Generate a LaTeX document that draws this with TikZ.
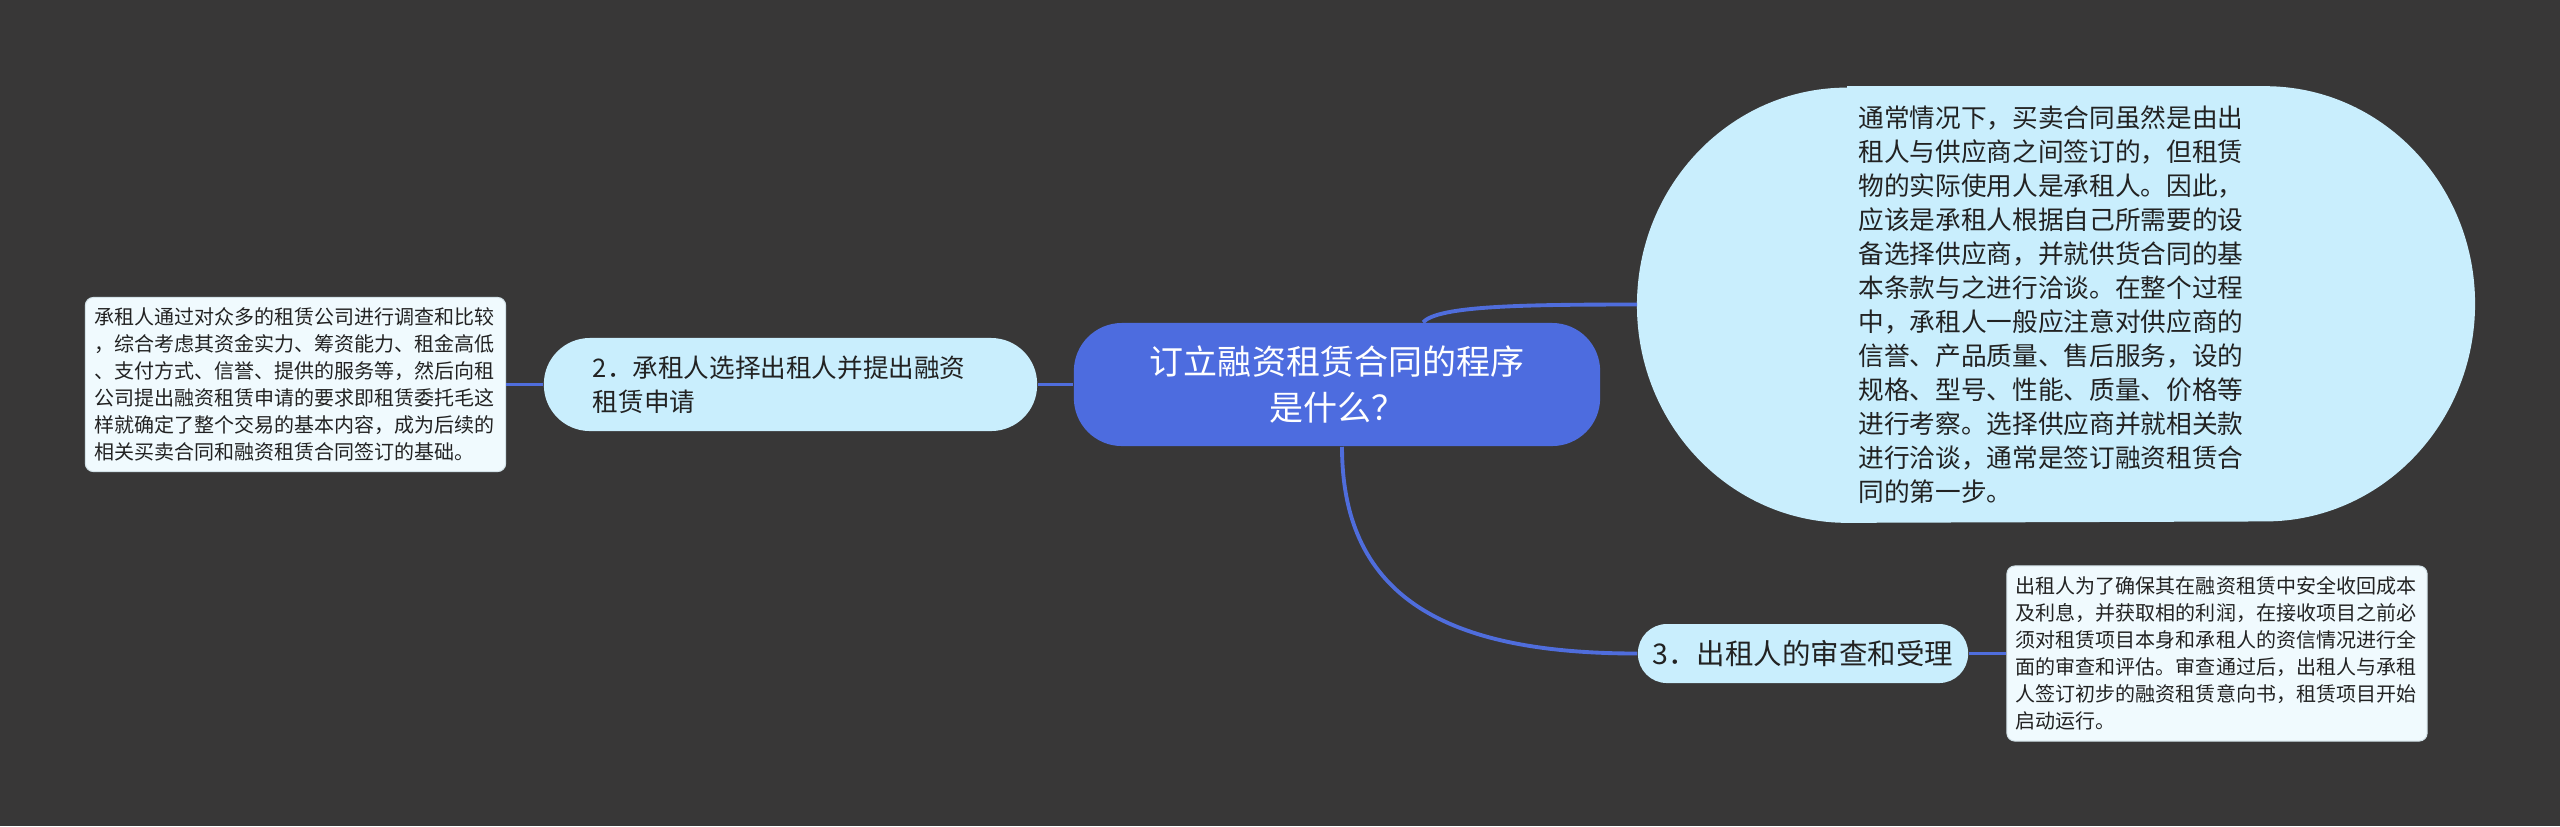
\documentclass[tikz,border=0pt]{standalone}
\usepackage{fontspec}
\usepackage{xcolor}
\newfontfamily\cjk{Noto Sans CJK SC}
\definecolor{Board}{HTML}{383737}
\definecolor{RootBlue}{HTML}{4D6CDF}
\definecolor{Wire}{HTML}{4F6DDC}
\definecolor{Bubble}{HTML}{C9EEFD}
\definecolor{LeafBg}{HTML}{F0FAFE}
\definecolor{LeafEdge}{HTML}{D3E2E8}
\definecolor{Ink}{HTML}{222222}
\usetikzlibrary{calc, backgrounds}

\begin{document}
\begin{tikzpicture}[x=0.01cm, y=-0.01cm,
  root/.style={rectangle, rounded corners=0.48cm, fill=RootBlue, text=white,
               minimum width=5.26cm, minimum height=1.23cm, inner sep=0pt, align=center,
               font=\cjk\fontsize{9.67pt}{13.1pt}\selectfont},
  topic/.style={rectangle, rounded corners=0.46cm, fill=Bubble, text=Ink,
                inner sep=0pt, font=\cjk\fontsize{7.28pt}{9.67pt}\selectfont},
  bigtopic/.style={rectangle, minimum width=8.36cm, minimum height=4.35cm, inner sep=0pt,
                   text width=3.95cm, align=left, text=Ink,
                   font=\cjk\fontsize{7.3pt}{9.67pt}\selectfont},
  leaf/.style={rectangle, rounded corners=0.08cm, fill=LeafBg, draw=LeafEdge, line width=0.3pt,
               minimum width=4.2cm, minimum height=1.74cm, inner sep=0pt,
               text width=4.02cm, align=left, text=Ink,
               font=\cjk\fontsize{5.69pt}{7.68pt}\selectfont},
  conn/.style={draw=Wire, line width=1.1pt}
]
\begin{scope}[on background layer]
  \fill[Board] (0,0) rectangle (2560,826);
\end{scope}
\useasboundingbox (0,0) rectangle (2560,826);

%% ---- Root ----
\node[root] (root) at (1337,384.5) {订立融资租赁合同的程序\\是什么？};

%% ---- Topics ----
\node[bigtopic] (step1) at (2056,304.5) {通常情况下，买卖合同虽然是由出\\租人与供应商之间签订的，但租赁\\物的实际使用人是承租人。因此，\\应该是承租人根据自己所需要的设\\备选择供应商，并就供货合同的基\\本条款与之进行洽谈。在整个过程\\中，承租人一般应注意对供应商的\\信誉、产品质量、售后服务，设的\\规格、型号、性能、质量、价格等\\进行考察。选择供应商并就相关款\\进行洽谈，通常是签订融资租赁合\\同的第一步。};
\node[topic, minimum width=4.93cm, minimum height=0.93cm, text width=3.95cm, align=left]
  (step2) at (790.5,384.5) {2．承租人选择出租人并提出融资\\租赁申请};
\node[topic, rounded corners=0.29cm, minimum width=3.3cm, minimum height=0.59cm,
      font=\cjk\fontsize{8.1pt}{10pt}\selectfont]
  (step3) at (1803,653.5) {3．出租人的审查和受理};

%% Background: oval behind the first step
\begin{scope}[on background layer]
  \fill[Bubble] ($(step1.north west)+(210,0)$) -- ($(step1.north east)+(-210,0)$)
    arc[start angle=90, end angle=-90, x radius=2.1cm, y radius=2.175cm]
    -- ($(step1.south west)+(210,0)$)
    arc[start angle=270, end angle=90, x radius=2.1cm, y radius=2.175cm] -- cycle;
\end{scope}

%% ---- Leaves ----
\node[leaf] (leaf2) at (295.5,384.5) {承租人通过对众多的租赁公司进行调查和比较\\，综合考虑其资金实力、筹资能力、租金高低\\、支付方式、信誉、提供的服务等，然后向租\\公司提出融资租赁申请的要求即租赁委托毛这\\样就确定了整个交易的基本内容，成为后续的\\相关买卖合同和融资租赁合同签订的基础。};
\node[leaf, minimum height=1.75cm] (leaf3) at (2217,653.5) {出租人为了确保其在融资租赁中安全收回成本\\及利息，并获取相的利润，在接收项目之前必\\须对租赁项目本身和承租人的资信情况进行全\\面的审查和评估。审查通过后，出租人与承租\\人签订初步的融资租赁意向书，租赁项目开始\\启动运行。};

%% ---- Connectors ----
\begin{scope}[on background layer]
  \draw[conn] ([xshift=0.86cm]root.north) .. controls (1438,306) and (1520,304.5) .. (step1.west);
  \draw[conn] ([xshift=0.05cm]root.south) .. controls (1342,600) and (1450,653.5) .. (step3.west);
\end{scope}
\draw[conn] (root.west) -- (step2.east);
\draw[conn] (step2.west) -- (leaf2.east);
\draw[conn] (step3.east) -- (leaf3.west);

\end{tikzpicture}
\end{document}
